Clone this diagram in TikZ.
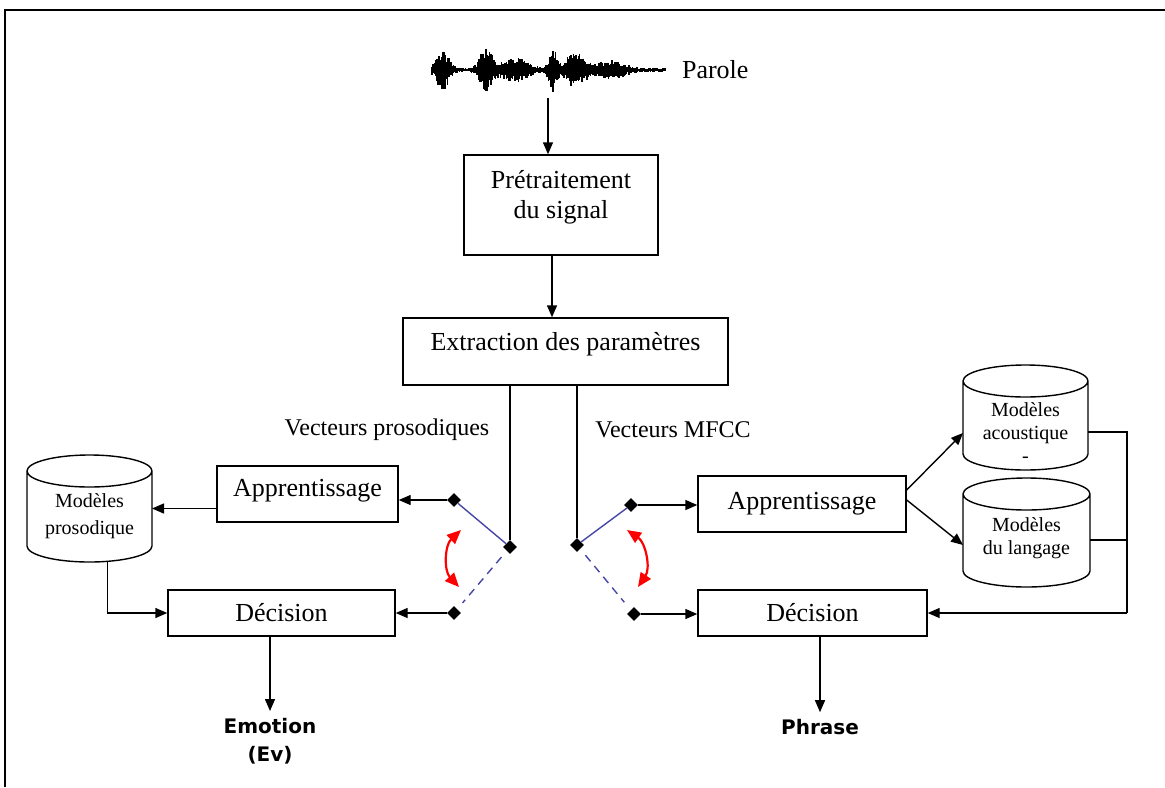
\documentclass[tikz,border=0pt]{standalone}
\usepackage{fontspec}
\setmainfont{Liberation Serif}
\newfontfamily\sortiefont{DejaVu Sans}
\usetikzlibrary{arrows.meta,shapes.geometric}
\definecolor{brasbleu}{RGB}{70,70,165}

\tikzset{
	boite/.style={draw, line width=0.7pt, align=center, inner sep=0pt, font=\fontsize{13}{15}\selectfont},
	cylnoeud/.style={inner sep=0pt, outer sep=0pt},
	cylbord/.style={line width=0.7pt},
	cyltxt/.style={align=center, font=\fontsize{10}{11.5}\selectfont},
	fl/.style={-{Triangle[length=6pt,width=5pt]}, line width=0.7pt},
	plot/.style={diamond, fill=black, inner sep=0pt, minimum size=7pt},
	bras/.style={brasbleu, line width=0.7pt},
	bascule/.style={{Triangle[length=7pt,width=6pt]}-{Triangle[length=7pt,width=6pt]}, red, line width=1.1pt},
	sortie/.style={align=center, font=\sortiefont\bfseries\fontsize{10}{14}\selectfont},
}

\begin{document}
\begin{tikzpicture}[x=0.5pt,y=-0.5pt]
				\useasboundingbox (0,0) rectangle (1165,787);
				\draw[line width=0.8pt] (5,787) -- (5,10) -- (1165,10);
				% signal de parole
				\pgfmathsetseed{12}
				\draw[line width=0.5pt] (432,70) -- (665,70);
				\foreach \x in {432,433.2,...,665}{
					\pgfmathsetmacro\env{2 + 19*exp(max(-12,0-((\x-443)/8)^2)) + 20*exp(max(-12,0-((\x-486)/8)^2)) + 10*exp(max(-12,0-((\x-515)/18)^2)) + 20*exp(max(-12,0-((\x-553)/5)^2)) + 16*exp(max(-12,0-((\x-575)/12)^2)) + 8*exp(max(-12,0-((\x-610)/18)^2))}
					\draw[line width=0.75pt] (\x,{70-\env*(0.45+0.55*rnd)}) -- (\x,{70+\env*(0.45+0.55*rnd)});
				}
				\coordinate (onde) at (548,98);
				\node[anchor=west, font=\fontsize{13}{15}\selectfont] (parole) at (675,70) {Parole};
				% chaine principale
				\node[boite, minimum width=97pt, minimum height=50pt] (pre) at (561,205) {Prétraitement\\du signal\rule[-11pt]{0pt}{1pt}};
				\node[boite, minimum width=162.5pt, minimum height=33.5pt] (ext) at (565.5,351.5) {Extraction des paramètres\rule[-10pt]{0pt}{1pt}};
				\node[font=\fontsize{12}{14}\selectfont] (vpros) at (387,430) {Vecteurs prosodiques};
				\node[font=\fontsize{12}{14}\selectfont] (vmfcc) at (673,430) {Vecteurs MFCC};
				% branche emotion
				\node[boite, minimum width=90.5pt, minimum height=28pt] (appL) at (307.5,494) {Apprentissage\rule[-6pt]{0pt}{1pt}};
				\node[boite, minimum width=113.5pt, minimum height=23pt] (decL) at (281.5,613) {Décision};
				\node[cylnoeud, minimum width=62.5pt, minimum height=53.5pt, label={[cyltxt, font=\fontsize{10}{13.5}\selectfont, yshift=-3.75pt]center:{Modèles\\prosodique}}] (prosL) at (89.5,508.5) {};
				\node[sortie] (emo) at (270,741) {Emotion\\(Ev)};
				% branche phrase
				\node[boite, minimum width=104pt, minimum height=28pt] (appR) at (802,504) {Apprentissage};
				\node[boite, minimum width=114.5pt, minimum height=23pt] (decR) at (812.5,613) {Décision};
				\node[cylnoeud, minimum width=62.5pt, minimum height=52.5pt, label={[cyltxt, yshift=-7.75pt]center:{Modèles\\acoustique\\-}}] (acou) at (1025.5,417.5) {};
				\node[cylnoeud, minimum width=63.5pt, minimum height=54.5pt, label={[cyltxt, yshift=-2.75pt]center:{Modèles\\du langage}}] (lang) at (1026.5,532.5) {};
				\node[sortie] (phr) at (820,727) {Phrase};
				% bases de modeles
				\draw[cylbord] ([yshift=-8pt]prosL.north west) -- ([yshift=8pt]prosL.south west) arc[start angle=180, end angle=360, x radius=31.25pt, y radius=8pt] -- ([yshift=-8pt]prosL.north east) arc[start angle=0, end angle=360, x radius=31.25pt, y radius=8pt];
				\draw[cylbord] ([yshift=-8pt]acou.north west) -- ([yshift=8pt]acou.south west) arc[start angle=180, end angle=360, x radius=31.25pt, y radius=8pt] -- ([yshift=-8pt]acou.north east) arc[start angle=0, end angle=360, x radius=31.25pt, y radius=8pt];
				\draw[cylbord] ([yshift=-8pt]lang.north west) -- ([yshift=8pt]lang.south west) arc[start angle=180, end angle=360, x radius=31.75pt, y radius=8pt] -- ([yshift=-8pt]lang.north east) arc[start angle=0, end angle=360, x radius=31.75pt, y radius=8pt];
				% commutateurs
				\node[plot] (pivL) at (510,547) {};
				\node[plot] (upL) at (454,500) {};
				\node[plot] (lowL) at (454,613) {};
				\node[plot] (pivR) at (577,545) {};
				\node[plot] (upR) at (631,505) {};
				\node[plot] (lowR) at (634,614) {};
				\coordinate (basL1) at (461,530);
				\coordinate (basL2) at (459,587);
				\coordinate (basR1) at (627,530);
				\coordinate (basR2) at (638,587);
				\coordinate (busT) at (1127,432);
				\coordinate (busM) at (1127,540);
				\coordinate (busB) at (1127,613);
				% liaisons
				\draw[fl] (onde) -- (onde |- pre.north);
				\draw[fl] ([xshift=-4.5pt]pre.south) -- ([xshift=-4.5pt]pre.south |- ext.north);
				\draw[line width=0.7pt] (ext.south -| pivL) -- (pivL);
				\draw[line width=0.7pt] (ext.south -| pivR) -- (pivR);
				\draw[bras] (pivL) -- (upL);
				\draw[bras, dash pattern=on 4pt off 3pt, shorten <=4pt, shorten >=4pt] (pivL) -- (lowL);
				\draw[bras] (pivR) -- (upR);
				\draw[bras, dash pattern=on 4pt off 3pt, shorten <=4pt, shorten >=5pt] (pivR) -- (lowR);
				\draw[bascule] (basL1) to[bend right=45] (basL2);
				\draw[bascule] (basR1) to[bend left=45] (basR2);
				\draw[fl] (upL) -- (upL -| appL.east);
				\draw[fl] (lowL) -- (lowL -| decL.east);
				\draw[fl] (appL.west |- prosL.east) -- (prosL.east);
				\draw[fl] ([xshift=9pt]prosL.south) |- (decL.west);
				\draw[fl] (decL.south -| emo) -- (emo.north);
				\draw[fl] (upR) -- (upR -| appR.west);
				\draw[fl] (lowR) -- (lowR -| decR.west);
				\draw[fl] ([yshift=7pt]appR.east) -- ([yshift=-7.75pt]acou.west);
				\draw[fl] ([yshift=2pt]appR.east) -- ([yshift=-6.25pt]lang.west);
				\draw[line width=0.7pt] (acou.east |- busT) -- (busT) -- (busB);
				\draw[line width=0.7pt] (lang.east |- busM) -- (busM);
				\draw[fl] (busB |- decR.east) -- (decR.east);
				\draw[fl] (decR.south -| phr) -- (phr.north);
\end{tikzpicture}
\end{document}
